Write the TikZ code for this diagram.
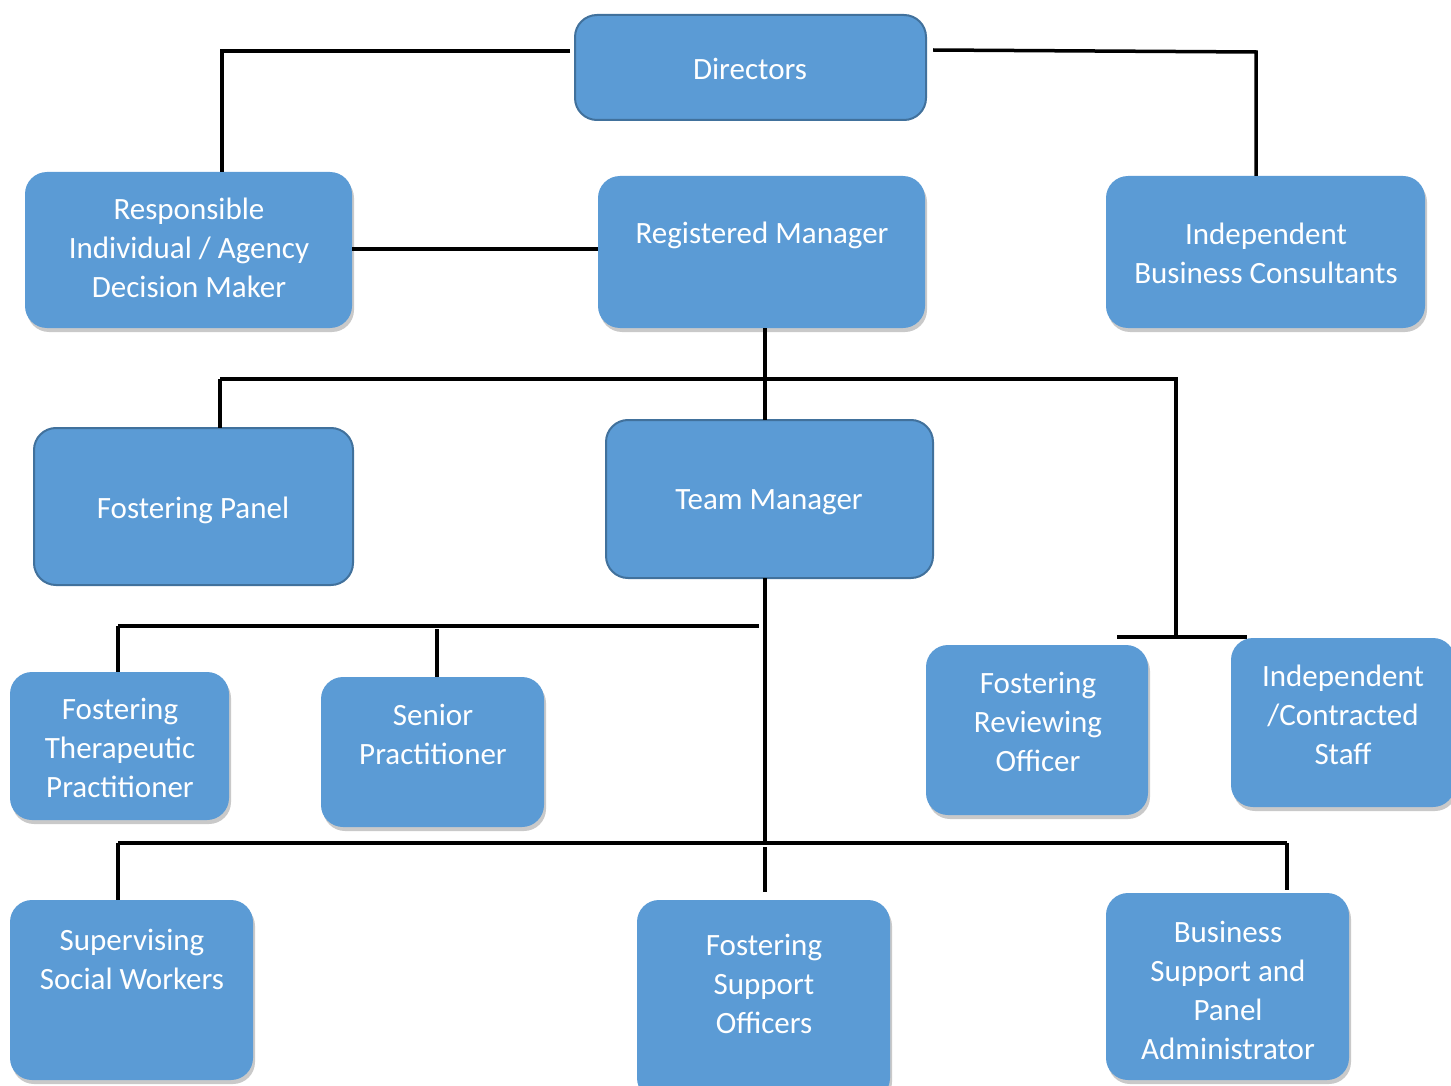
\documentclass[tikz,border=0pt]{standalone}
\usepackage{fontspec}
\setmainfont{Carlito}
\usetikzlibrary{shadows}
\definecolor{boxblue}{HTML}{5B9BD5}
\definecolor{boxedge}{HTML}{41719C}
\begin{document}
\begin{tikzpicture}[x=1pt,y=-1pt,
  box/.style={fill=boxblue, rounded corners=22pt, inner sep=0pt, draw=none},
  sbox/.style={box, drop shadow={shadow xshift=2pt, shadow yshift=-4pt, opacity=0.3, fill=black!70}},
  ebox/.style={box, draw=boxedge, line width=2pt},
  lbl/.style={text=white, align=center, inner sep=0pt, font=\fontsize{31}{39}\selectfont},
  conn/.style={line width=3.5pt, black}]
\useasboundingbox (0,0) rectangle (1451,1086);
% boxes
\node[ebox, minimum width=351pt, minimum height=105pt] (dir) at (750.5,67.5) {};
\node[sbox, minimum width=327pt, minimum height=156pt] (ri) at (188.5,250) {};
\node[sbox, minimum width=327pt, minimum height=152pt] (rm) at (761.5,252) {};
\node[sbox, minimum width=319pt, minimum height=152pt] (ibc) at (1265.5,252) {};
\node[ebox, minimum width=319pt, minimum height=157pt] (fp) at (193.5,506.5) {};
\node[ebox, minimum width=327pt, minimum height=158pt] (tm) at (769.5,499) {};
\node[sbox, minimum width=219pt, minimum height=148pt] (ftp) at (119.5,746) {};
\node[sbox, minimum width=223pt, minimum height=150pt] (sp) at (432.5,752) {};
\node[sbox, minimum width=222pt, minimum height=170pt] (fro) at (1037,730) {};
\node[sbox, minimum width=224pt, minimum height=169pt] (ics) at (1343,722.5) {};
\node[sbox, minimum width=243pt, minimum height=180pt] (ssw) at (131.5,990) {};
\node[sbox, minimum width=253pt, minimum height=200pt] (fso) at (763.5,1000) {};
\node[sbox, minimum width=243pt, minimum height=187pt] (bspa) at (1227.5,986.5) {};
% labels
\node[lbl] (tdir) at (750,69) {Directors};
\node[lbl] (tri) at (189,248) {Responsible\\Individual / Agency\\Decision Maker};
\node[lbl] (trm) at (762,235) {Registered Manager};
\node[lbl] (tibc) at (1266,253) {Independent\\Business Consultants};
\node[lbl] (tfp) at (193,510) {Fostering Panel};
\node[lbl] (ttm) at (769,502.5) {Team Manager};
\node[lbl] (tftp) at (120,748) {Fostering\\Therapeutic\\Practitioner};
\node[lbl] (tsp) at (433,734) {Senior\\Practitioner};
\node[lbl] (tfro) at (1038,722) {Fostering\\Reviewing\\Officer};
\node[lbl] (tics) at (1343,715) {Independent\\/Contracted\\Staff};
\node[lbl] (tssw) at (132,959) {Supervising\\Social Workers};
\node[lbl] (tfso) at (764,984) {Fostering\\Support\\Officers};
\node[lbl] (tbspa) at (1228,990) {Business\\Support and\\Panel\\Administrator};
% connector points
\coordinate (d1) at (570,51);
\coordinate (d2) at (222,51);
\coordinate (d3) at (222,172);
\coordinate (e1) at (933,50);
\coordinate (e2) at (1256,52);
\coordinate (e3) at (1256,176);
\coordinate (r1) at (765,328);
\coordinate (r2) at (765,420);
\coordinate (b1) at (220,379);
\coordinate (b2) at (1178,379);
\coordinate (b3) at (220,428);
\coordinate (b4) at (1176,379);
\coordinate (b5) at (1176,637);
\coordinate (b6) at (1117,637);
\coordinate (b7) at (1247,637);
\coordinate (t1) at (765,578);
\coordinate (t2) at (765,843);
\coordinate (m1) at (118,626);
\coordinate (m2) at (759,626);
\coordinate (m3) at (118,672);
\coordinate (m4) at (437,629);
\coordinate (m5) at (437,677);
\coordinate (n1) at (118,843);
\coordinate (n2) at (1287,843);
\coordinate (n3) at (118,900);
\coordinate (n4) at (765,847);
\coordinate (n5) at (765,892);
\coordinate (n6) at (1287,890);
% connectors
\draw[conn] (d1) -- (d2) -- (d3);
\draw[conn] (e1) -- (e2) -- (e3);
\draw[conn] ([yshift=1pt]ri.east) -- ([yshift=1pt]ri.east -| rm.west);
\draw[conn] (r1) -- (r2);
\draw[conn] (b1) -- (b2);
\draw[conn] (b1) -- (b3);
\draw[conn] (b4) -- (b5);
\draw[conn] (b6) -- (b7);
\draw[conn] (t1) -- (t2);
\draw[conn] (m1) -- (m2);
\draw[conn] (m1) -- (m3);
\draw[conn] (m4) -- (m5);
\draw[conn] (n1) -- (n2);
\draw[conn] (n1) -- (n3);
\draw[conn] (n4) -- (n5);
\draw[conn] (n2) -- (n6);
\end{tikzpicture}
\end{document}
